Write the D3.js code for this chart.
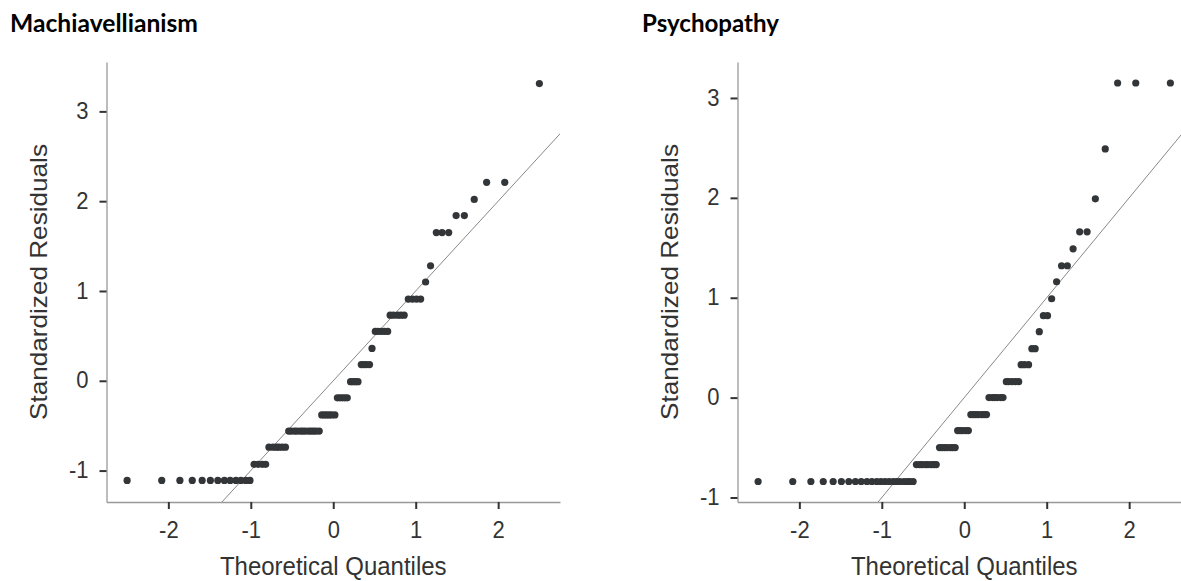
<!DOCTYPE html>
<html>
<head>
<meta charset="utf-8">
<script src="https://cdn.jsdelivr.net/npm/d3@7"></script>
<style>
  html, body { margin: 0; padding: 0; background: #fff; }
  svg { display: block; }
</style>
</head>
<body>
<svg id="chart" width="1181" height="581"></svg>
<script>
/* ---------- data ---------- */
const panelTitles = ["Machiavellianism", "Psychopathy"];
const xTicks = [-2, -1, 0, 1, 2];
const yTicks = [-1, 0, 1, 2, 3];

// theoretical quantiles (80 cases, shared by both panels)
const quantiles = [
  -2.50, -2.08, -1.86, -1.71, -1.59, -1.49, -1.40, -1.32, -1.25, -1.18,
  -1.12, -1.06, -1.01, -0.96, -0.91, -0.86, -0.82, -0.78, -0.73, -0.69,
  -0.66, -0.62, -0.58, -0.54, -0.51, -0.47, -0.44, -0.40, -0.37, -0.34,
  -0.30, -0.27, -0.24, -0.21, -0.17, -0.14, -0.11, -0.08, -0.05, -0.02,
   0.02,  0.05,  0.08,  0.11,  0.14,  0.17,  0.21,  0.24,  0.27,  0.30,
   0.34,  0.37,  0.40,  0.44,  0.47,  0.51,  0.54,  0.58,  0.62,  0.66,
   0.69,  0.73,  0.78,  0.82,  0.86,  0.91,  0.96,  1.01,  1.06,  1.12,
   1.18,  1.25,  1.32,  1.40,  1.49,  1.59,  1.71,  1.86,  2.08,  2.50
];

// standardized residuals, sorted
const machResiduals = [
  -1.11, -1.11, -1.11, -1.11, -1.11, -1.11, -1.11, -1.11, -1.11, -1.11,
  -1.11, -1.11, -1.11, -0.93, -0.93, -0.93, -0.93, -0.74, -0.74, -0.74,
  -0.74, -0.74, -0.74, -0.56, -0.56, -0.56, -0.56, -0.56, -0.56, -0.56,
  -0.56, -0.56, -0.56, -0.56, -0.56, -0.38, -0.38, -0.38, -0.38, -0.38,
  -0.38, -0.19, -0.19, -0.19, -0.19, -0.19, -0.01, -0.01, -0.01, -0.01,
   0.18,  0.18,  0.18,  0.18,  0.36,  0.55,  0.55,  0.55,  0.55,  0.55,
   0.73,  0.73,  0.73,  0.73,  0.73,  0.91,  0.91,  0.91,  0.91,  1.10,
   1.28,  1.65,  1.65,  1.65,  1.84,  1.84,  2.02,  2.21,  2.21,  3.31
];

const psychResiduals = [
  -0.84, -0.84, -0.84, -0.84, -0.84, -0.84, -0.84, -0.84, -0.84, -0.84,
  -0.84, -0.84, -0.84, -0.84, -0.84, -0.84, -0.84, -0.84, -0.84, -0.84,
  -0.84, -0.84, -0.67, -0.67, -0.67, -0.67, -0.67, -0.67, -0.67, -0.67,
  -0.50, -0.50, -0.50, -0.50, -0.50, -0.50, -0.50, -0.33, -0.33, -0.33,
  -0.33, -0.33, -0.17, -0.17, -0.17, -0.17, -0.17, -0.17, -0.17,  0.00,
   0.00,  0.00,  0.00,  0.00,  0.00,  0.16,  0.16,  0.16,  0.16,  0.16,
   0.33,  0.33,  0.33,  0.49,  0.49,  0.66,  0.82,  0.82,  0.99,  1.16,
   1.32,  1.32,  1.49,  1.66,  1.66,  1.99,  2.49,  3.15,  3.15,  3.15
];

/* ---------- layout ---------- */
const svg = d3.select("#chart");
svg.append("rect").attr("width", 1181).attr("height", 581).attr("fill", "#fff");

const FONT = "'Liberation Sans', Arial, sans-serif";
const STRETCH = 1.1;   // source picture is a bit taller than wide

const panels = [
  { title: panelTitles[0], resid: machResiduals, left: 106.5, right: 560,
    yDomain: [-1.35, 3.55], titleX: 10, titleW: 188, ylabX: 47 },
  { title: panelTitles[1], resid: psychResiduals, left: 737.5, right: 1191,
    yDomain: [-1.045, 3.36], titleX: 642, titleW: 137, ylabX: 678 }
];
const plotTop = 62, plotBottom = 502;

panels.forEach((p, i) => {
  const g = svg.append("g");

  const x = d3.scaleLinear().domain([-2.75, 2.75]).range([p.left, p.right]);
  const y = d3.scaleLinear().domain(p.yDomain).range([plotBottom, plotTop]);

  /* panel title */
  g.append("text")
    .attr("x", p.titleX).attr("y", 32)
    .attr("font-family", "Lato, 'Open Sans', sans-serif")
    .attr("font-weight", 700).attr("font-size", 25)
    .attr("textLength", p.titleW).attr("lengthAdjust", "spacingAndGlyphs")
    .attr("fill", "#000")
    .text(p.title);

  /* clip for the reference line */
  const clipId = "clip" + i;
  g.append("clipPath").attr("id", clipId)
    .append("rect")
    .attr("x", p.left).attr("y", plotTop)
    .attr("width", p.right - p.left).attr("height", plotBottom - plotTop);

  // y = x reference line
  const lo = Math.min(x.domain()[0], y.domain()[0]);
  const hi = Math.max(x.domain()[1], y.domain()[1]);
  g.append("line")
    .attr("clip-path", `url(#${clipId})`)
    .attr("x1", x(lo)).attr("y1", y(lo))
    .attr("x2", x(hi)).attr("y2", y(hi))
    .attr("stroke", "#555").attr("stroke-width", 0.7);

  /* points */
  g.append("g").selectAll("circle")
    .data(p.resid.map((r, k) => ({ q: quantiles[k], r })))
    .join("circle")
    .attr("cx", d => x(d.q))
    .attr("cy", d => y(d.r))
    .attr("r", 3.6)
    .attr("fill", "#333638");

  /* axes */
  const xAxis = g.append("g")
    .attr("transform", `translate(0,${plotBottom})`)
    .call(d3.axisBottom(x).tickValues(xTicks).tickFormat(d => String(d))
      .tickSize(7).tickSizeOuter(0).tickPadding(10));
  const yAxis = g.append("g")
    .attr("transform", `translate(${p.left},0)`)
    .call(d3.axisLeft(y).tickValues(yTicks).tickFormat(d => String(d))
      .tickSize(7).tickSizeOuter(0).tickPadding(11));

  [xAxis, yAxis].forEach(a => {
    a.select(".domain").attr("stroke", "#999").attr("stroke-width", 1.3);
    a.selectAll(".tick line").attr("stroke", "#333").attr("stroke-width", 2);
    a.selectAll(".tick text")
      .attr("font-family", FONT)
      .attr("font-size", 22).attr("fill", "#333")
      .attr("transform", `scale(1,${STRETCH})`);
  });
  // keep y tick labels centred on their ticks after the vertical stretch
  yAxis.selectAll(".tick text").attr("dy", (0.32 / STRETCH) + "em");

  /* axis titles */
  g.append("g")
    .attr("transform", `translate(${(p.left + p.right) / 2},575) scale(1,${STRETCH})`)
    .append("text")
    .attr("text-anchor", "middle")
    .attr("font-family", FONT)
    .attr("font-size", 24).attr("fill", "#333")
    .text("Theoretical Quantiles");

  g.append("text")
    .attr("transform", `translate(${p.ylabX},${(plotTop + plotBottom) / 2}) rotate(-90)`)
    .attr("text-anchor", "middle")
    .attr("font-family", FONT)
    .attr("font-size", 24).attr("fill", "#333")
    .attr("textLength", 276).attr("lengthAdjust", "spacingAndGlyphs")
    .text("Standardized Residuals");
});
</script>
</body>
</html>
